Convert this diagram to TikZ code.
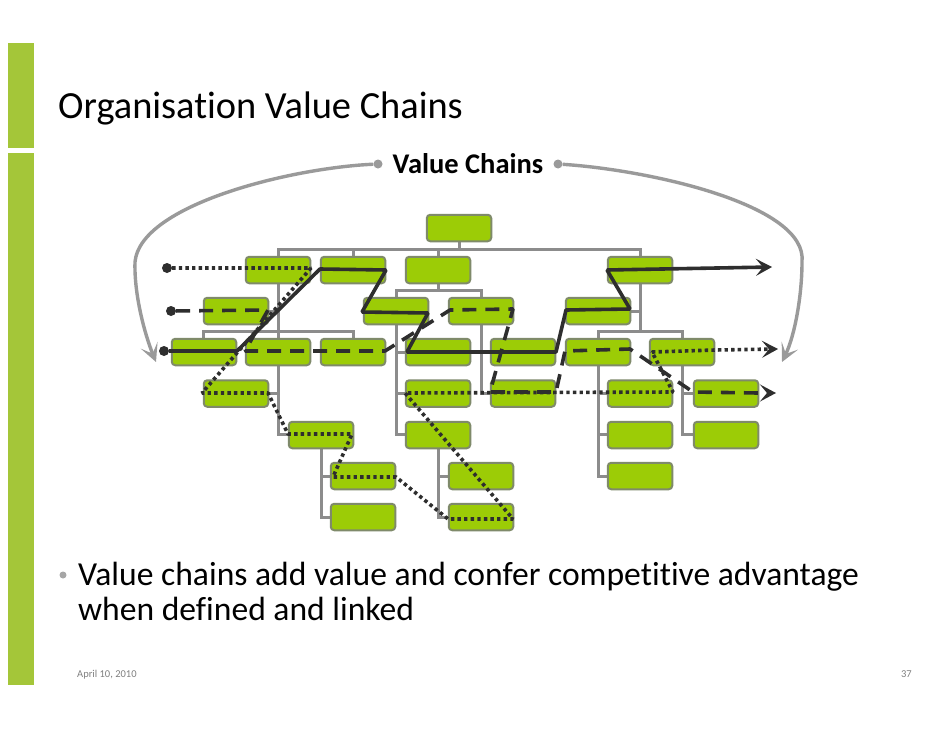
\documentclass[tikz,border=0pt]{standalone}
\usepackage{fontspec}
\setmainfont{Carlito}[Ligatures=NoCommon]
\usetikzlibrary{arrows.meta}
\definecolor{bargreen}{HTML}{A4C639}
\definecolor{boxgreen}{HTML}{9CCC06}
\definecolor{boxedge}{HTML}{7F8A6A}
\definecolor{treegray}{HTML}{8C8C8C}
\definecolor{arcgray}{HTML}{9A9A9A}
\definecolor{chain}{HTML}{2E2E2E}
\tikzset{
  x=1pt,y=-1pt,
  orgbox/.style={draw=boxedge,line width=2pt,fill=boxgreen,rounded corners=3.5pt,minimum width=64.5pt,minimum height=26.5pt,inner sep=0pt},
  tree/.style={draw=treegray,line width=3pt},
  arc/.style={draw=arcgray,line width=3.4pt,-{Stealth[length=18pt,width=18pt,inset=9pt]}},
  solidchain/.style={draw=chain,line width=3.6pt,line join=bevel},
  dotchain/.style={draw=chain,line width=3.6pt,line join=bevel,dash pattern=on 3.4pt off 3.2pt},
  dashchain/.style={draw=chain,line width=3.6pt,line join=bevel,dash pattern=on 14pt off 9pt},
  tipchain/.style={-{Stealth[length=16pt,width=17pt,inset=7pt]}},
  startdot/.style={circle,fill=chain,minimum size=10pt,inner sep=0pt},
  golddot/.style={circle,fill=arcgray,minimum size=9pt,inner sep=0pt},
  lbl/.style={inner sep=0pt,anchor=base west,text=black}
}
\begin{document}
\begin{tikzpicture}
\useasboundingbox (0,0) rectangle (942,728);
\fill[white] (0,0) rectangle (942,728);
\fill[bargreen] (8,43) rectangle (34,148);
\fill[bargreen] (8,153) rectangle (34,685);
\node[lbl,font=\fontsize{38.4}{42}\selectfont] (title) at (58,118) {Organisation Value Chains};
\node[inner sep=0pt,anchor=base,font=\bfseries\fontsize{28.5}{32}\selectfont] (vc) at (468,173) {Value Chains};
% tree
\draw[tree] (459,242)--(459,249);
\draw[tree] (278,256)--(278,249)--(640,249)--(640,331);
\draw[tree] (353,249)--(353,256) (438,249)--(438,290);
\draw[tree] (396,297)--(396,290)--(481,290)--(481,393)--(490,393);
\draw[tree] (481,352)--(490,352);
\draw[tree] (396,324)--(396,434)--(405,434) (396,352)--(405,352) (396,393)--(405,393);
\draw[tree] (278,284)--(278,434)--(288,434) (268,311)--(278,311) (268,393)--(278,393);
\draw[tree] (203,338)--(203,331)--(353,331)--(353,338);
\draw[tree] (630,311)--(640,311);
\draw[tree] (598,338)--(598,331)--(682,331)--(682,338);
\draw[tree] (598,366)--(598,476)--(607,476) (598,393)--(607,393) (598,434)--(607,434);
\draw[tree] (682,366)--(682,434)--(693,434) (682,393)--(693,393);
\draw[tree] (321,448)--(321,517)--(331,517) (321,476)--(331,476);
\draw[tree] (438,448)--(438,517)--(448,517) (438,476)--(448,476);
% boxes
\node[orgbox] (a0) at (459,228) {};
\foreach \n/\x in {b1/278,b2/353,b3/438,b4/640}{\node[orgbox] (\n) at (\x,270) {};}
\foreach \n/\x in {c1/236,c2/396,c3/481,c4/598}{\node[orgbox] (\n) at (\x,311) {};}
\foreach \n/\x in {d1/204,d2/278,d3/353,d4/438,d5/523,d6/598,d7/682}{\node[orgbox] (\n) at (\x,352) {};}
\foreach \n/\x in {e1/236,e2/438,e3/523,e4/640,e5/726}{\node[orgbox] (\n) at (\x,393.5) {};}
\foreach \n/\x in {f1/321,f2/438,f3/640,f4/726}{\node[orgbox] (\n) at (\x,435) {};}
\foreach \n/\x in {g1/363,g2/481,g3/640}{\node[orgbox] (\n) at (\x,476) {};}
\foreach \n/\x in {h1/363,h2/481}{\node[orgbox] (\n) at (\x,517) {};}
% arcs
\node[golddot] (la) at (378,164) {};
\node[golddot] (ra) at (558,164) {};
\coordinate (lt) at (156,362);
\coordinate (rt) at (782,362);
\draw[arc] (la) .. controls (290,168) and (140,205) .. (135,262) .. controls (134,295) and (145,335) .. (lt);
\draw[arc] (ra) .. controls (650,170) and (808,205) .. (802,262) .. controls (802,295) and (795,335) .. (rt);
% chains
\node[startdot] (s1) at (167,268) {};
\node[startdot] (s2) at (171,311) {};
\node[startdot] (s3) at (164,351) {};
\coordinate (e1t) at (772,267);
\coordinate (e2t) at (778,349);
\coordinate (e3t) at (776,393);
\draw[dotchain,tipchain] (s1)--(311,268)--(202,393)--(268,393)--(288,434)--(352,434)--(333,477)--(396,477)--(448,519)--(513,519)--(405,393)--(673,392)--(652,352)--(715,350)--(e2t);
\draw[dashchain,tipchain] (s2)--(268,310)--(245,351)--(385,351)--(450,310)--(513,309)--(490,392)--(556,392)--(565,351)--(630,349)--(693,392)--(758,393)--(e3t);
\draw[solidchain,tipchain] (s3)--(237,351)--(320,269)--(386,270)--(362,312)--(428,313)--(407,352)--(556,352)--(566,310)--(630,309)--(607,270)--(e1t);
% text
\fill[gray!70] (63,575) circle (3.5pt);
\node[lbl,font=\fontsize{33.6}{36}\selectfont] (l1) at (78,585) {Value chains add value and confer competitive advantage};
\node[lbl,font=\fontsize{33.6}{36}\selectfont] (l2) at (78,620) {when defined and linked};
\node[lbl,font=\fontsize{10.5}{13}\selectfont,text=black!50] (dt) at (77,677) {April 10, 2010};
\node[inner sep=0pt,anchor=base east,font=\fontsize{10.5}{13}\selectfont,text=black!50] (pg) at (912,677) {37};
\end{tikzpicture}
\end{document}
